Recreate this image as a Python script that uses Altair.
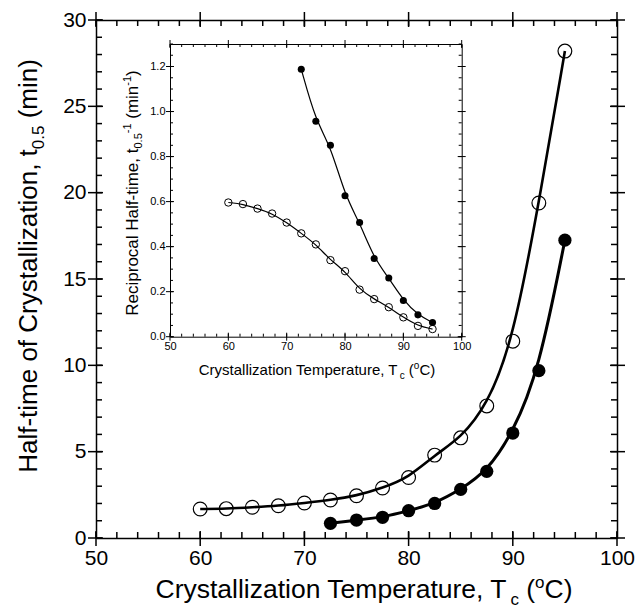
import altair as alt
import pandas as pd

# ---------------- data ----------------
temps_open = [60, 62.5, 65, 67.5, 70, 72.5, 75, 77.5, 80, 82.5, 85, 87.5, 90, 92.5, 95]
halftime_open = [1.68, 1.70, 1.78, 1.87, 2.03, 2.20, 2.45, 2.90, 3.50, 4.80, 5.80, 7.65, 11.4, 19.4, 28.2]
recip_open = [0.596, 0.589, 0.569, 0.547, 0.507, 0.459, 0.410, 0.340, 0.291, 0.209, 0.167, 0.131, 0.086, 0.048, 0.034]

temps_filled = [72.5, 75, 77.5, 80, 82.5, 85, 87.5, 90, 92.5, 95]
halftime_filled = [0.85, 1.04, 1.20, 1.58, 2.00, 2.82, 3.86, 6.08, 9.69, 17.25]
recip_filled = [1.188, 0.957, 0.850, 0.626, 0.507, 0.347, 0.261, 0.161, 0.097, 0.063]

x_major = [50, 60, 70, 80, 90, 100]
x_minor = list(range(50, 101, 2))
main_y_major = [0, 5, 10, 15, 20, 25, 30]
main_y_minor = list(range(0, 31, 1))
inset_y_major = [0.0, 0.2, 0.4, 0.6, 0.8, 1.0, 1.2]
inset_y_minor = [round(k * 0.05, 2) for k in range(0, 27)]

df_open = pd.DataFrame({"T": temps_open, "t": halftime_open, "r": recip_open})
df_filled = pd.DataFrame({"T": temps_filled, "t": halftime_filled, "r": recip_filled})

# ---------------- layout ----------------
FONT = "Liberation Sans"
W, H = 521, 518
IX0, IX1 = 74, 365.7      # inset x range (plot px)
IYB, IYT = 316.7, 24      # inset y range (plot px)

MX = dict(domain=[50, 100], range=[0, W])
MY = dict(domain=[0, 30], range=[H, 0])
IX = dict(domain=[50, 100], range=[IX0, IX1])
IY = dict(domain=[0, 1.3], range=[IYB, IYT])


def sc(d):
    return alt.Scale(domain=d["domain"], range=d["range"], nice=False, zero=False)


def ax(orient, values, labels=True, domain=True, offset=0, size=21, fmt=None, tw=1.5, pad=10):
    kw = dict(orient=orient, values=values, ticks=False, labels=labels, domain=domain,
              offset=offset, grid=False, title=None, domainColor="black",
              domainWidth=tw, labelFont=FONT, labelFontSize=size,
              labelColor="black", labelPadding=pad, labelFlush=False, labelOverlap=False)
    if fmt:
        kw["format"] = fmt
    return alt.Axis(**kw)


# main chart layers (axes carry labels + frame lines)
m1 = alt.Chart(df_open).mark_line(color="black", strokeWidth=2.6, interpolate="basis").encode(
    x=alt.X("T:Q", scale=sc(MX), axis=ax("bottom", x_major, pad=9)),
    y=alt.Y("t:Q", scale=sc(MY), axis=ax("left", main_y_major, pad=10)))
m2 = alt.Chart(df_open).mark_point(shape="circle", filled=False, color="black", size=190,
                                   strokeWidth=1.2, opacity=1).encode(
    x=alt.X("T:Q", scale=sc(MX), axis=ax("top", x_major, labels=False)),
    y=alt.Y("t:Q", scale=sc(MY), axis=ax("right", main_y_major, labels=False)))
m3 = alt.Chart(df_filled).mark_line(color="black", strokeWidth=3, interpolate="basis").encode(
    x=alt.X("T:Q", scale=sc(MX), axis=None),
    y=alt.Y("t:Q", scale=sc(MY), axis=None))
m4 = alt.Chart(df_filled).mark_circle(color="black", size=175, opacity=1).encode(
    x=alt.X("T:Q", scale=sc(MX), axis=None),
    y=alt.Y("t:Q", scale=sc(MY), axis=None))

# inset layers
i1 = alt.Chart(df_open).mark_line(color="black", strokeWidth=1.2, interpolate="basis").encode(
    x=alt.X("T:Q", scale=sc(IX), axis=ax("bottom", x_major, offset=IYB - H, size=11, tw=1, pad=4)),
    y=alt.Y("r:Q", scale=sc(IY), axis=ax("left", inset_y_major, offset=-IX0, size=11, fmt=".1f", tw=1, pad=5)))
i2 = alt.Chart(df_open).mark_point(shape="circle", filled=False, color="black", size=55,
                                   strokeWidth=1, opacity=1).encode(
    x=alt.X("T:Q", scale=sc(IX), axis=ax("top", x_major, labels=False, offset=-IYT, tw=1)),
    y=alt.Y("r:Q", scale=sc(IY), axis=ax("right", inset_y_major, labels=False, offset=IX1 - W, tw=1)))
i3 = alt.Chart(df_filled).mark_line(color="black", strokeWidth=1.2, interpolate="basis").encode(
    x=alt.X("T:Q", scale=sc(IX), axis=None),
    y=alt.Y("r:Q", scale=sc(IY), axis=None))
i4 = alt.Chart(df_filled).mark_circle(color="black", size=50, opacity=1).encode(
    x=alt.X("T:Q", scale=sc(IX), axis=None),
    y=alt.Y("r:Q", scale=sc(IY), axis=None))


# ---------------- tick marks drawn as rules through the scales ----------------
def xticks(values, s, y0, y1, w):
    return alt.Chart(pd.DataFrame({"v": values})).mark_rule(color="black", strokeWidth=w).encode(
        x=alt.X("v:Q", scale=sc(s), axis=None), y=alt.value(y0), y2=alt.value(y1))


def yticks(values, s, x0, x1, w):
    return alt.Chart(pd.DataFrame({"v": values})).mark_rule(color="black", strokeWidth=w).encode(
        y=alt.Y("v:Q", scale=sc(s), axis=None), x=alt.value(x0), x2=alt.value(x1))


ticks = [
    # main frame
    xticks(x_major, MX, H + 8, H - 7, 1.5), xticks(x_minor, MX, H, H - 6, 1.5),
    xticks(x_major, MX, -8, 7, 1.5), xticks(x_minor, MX, 0, 6, 1.5),
    yticks(main_y_major, MY, -8, 7, 1.5), yticks(main_y_minor, MY, 0, 6, 1.5),
    yticks(main_y_major, MY, W + 8, W - 7, 1.5), yticks(main_y_minor, MY, W, W - 6, 1.5),
    # inset frame
    xticks(x_major, IX, IYB + 4, IYB - 4, 1), xticks(x_minor, IX, IYB, IYB - 3, 1),
    xticks(x_major, IX, IYT - 4, IYT + 4, 1), xticks(x_minor, IX, IYT, IYT + 3, 1),
    yticks(inset_y_major, IY, IX0 - 4, IX0 + 4, 1), yticks(inset_y_minor, IY, IX0, IX0 + 3, 1),
    yticks(inset_y_major, IY, IX1 + 4, IX1 - 4, 1), yticks(inset_y_minor, IY, IX1, IX1 - 3, 1),
]

# ---------------- composite text titles ----------------
AFM = {" ": 278, "(": 333, ")": 333, ",": 278, "-": 333, ".": 278,
       "C": 722, "H": 722, "R": 722, "T": 611,
       "a": 556, "c": 500, "e": 556, "f": 278, "i": 222, "l": 222, "m": 833, "n": 556,
       "o": 556, "p": 556, "r": 333, "s": 500, "t": 278, "u": 556, "y": 500, "z": 500}
for d in "0123456789":
    AFM[d] = 556


def width(s, size):
    return sum(AFM.get(ch, 556) for ch in s) * size / 1000.0


dummy = pd.DataFrame({"k": [0]})


def txt(s, x, y, size, angle=0):
    return alt.Chart(dummy).mark_text(text=s, font=FONT, fontSize=size, align="left",
                                      baseline="alphabetic", angle=angle, color="black").encode(
        x=alt.value(x), y=alt.value(y))


def htitle(pieces, cx, base):
    total = sum(width(s, sz) for s, sz, _ in pieces)
    x = cx - total / 2
    out = []
    for s, sz, shift in pieces:
        if s.strip():
            out.append(txt(s, x, base + shift, sz))
        x += width(s, sz)
    return out


def vtitle(pieces, base, cy):
    total = sum(width(s, sz) for s, sz, _ in pieces)
    y = cy + total / 2
    out = []
    for s, sz, shift in pieces:
        if s.strip():
            out.append(txt(s, base + shift, y, sz, angle=270))
        y -= width(s, sz)
    return out


titles = []
titles += htitle([("Crystallization Temperature, T", 26.5, 0), ("c", 17, 7), (" ", 26.5, 0), ("(", 26.5, 0),
                  ("o", 17, -10), ("C)", 26.5, 0)], 268, 578)
titles += vtitle([("Half-time of Crystallization, t", 26, 0), ("0.5", 17, 7), (" ", 26, 0), ("(min)", 26, 0)], -59, 246)
titles += htitle([("Crystallization Temperature, T", 15, 0), ("c", 10, 4), (" ", 15, 0), ("(", 15, 0),
                  ("o", 10, -6), ("C)", 15, 0)], 221, 355)
titles += vtitle([("Reciprocal Half-time, t", 17, 0), ("0.5", 11, 4), ("-1", 11, -7),
                  (" ", 17, 0), ("(min", 17, 0), ("-1", 11, -7), (")", 17, 0)], 42, 173)

chart = alt.layer(m1, m2, m3, m4, i1, i2, i3, i4, *ticks, *titles).resolve_scale(
    x="independent", y="independent").properties(
    width=W, height=H,
    autosize=alt.AutoSizeParams(type="none"),
    padding={"left": 96, "top": 20, "right": 18, "bottom": 74},
    background="white",
).configure_view(stroke=None)

chart.save("out.html", embed_options={"renderer": "svg", "actions": False})
